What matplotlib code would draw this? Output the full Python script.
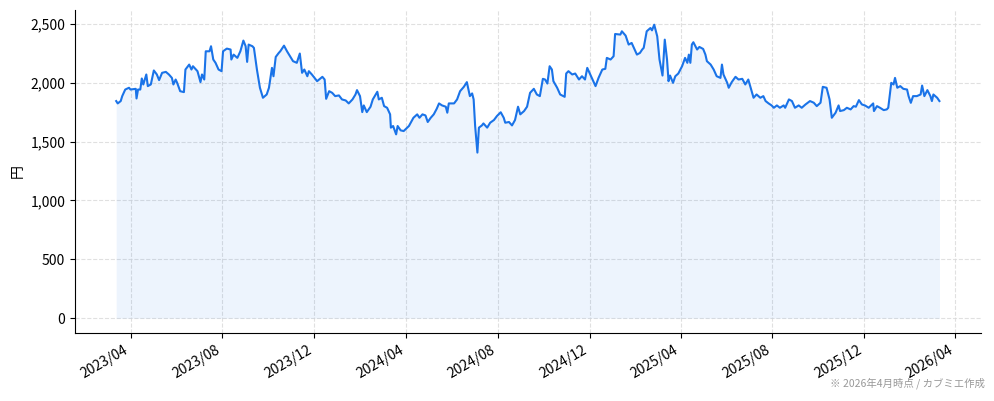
import pandas as pd
import matplotlib
matplotlib.use('Agg')
import matplotlib.pyplot as plt
import matplotlib.dates as mdates
from matplotlib.ticker import FuncFormatter

plt.rcParams['font.family'] = ['Noto Sans CJK JP', 'DejaVu Sans']

# Price readings (yen)
dates = [
    '2023-03-13', '2023-03-15', '2023-03-19', '2023-03-21', '2023-03-25', '2023-03-30',
    '2023-04-01', '2023-04-08', '2023-04-09', '2023-04-11', '2023-04-14', '2023-04-16',
    '2023-04-18', '2023-04-22', '2023-04-24', '2023-04-28', '2023-05-02', '2023-05-06',
    '2023-05-09', '2023-05-13', '2023-05-18', '2023-05-22', '2023-05-26', '2023-05-28',
    '2023-05-31', '2023-06-02', '2023-06-06', '2023-06-11', '2023-06-13', '2023-06-18',
    '2023-06-21', '2023-06-23', '2023-06-29', '2023-07-03', '2023-07-05', '2023-07-08',
    '2023-07-10', '2023-07-15', '2023-07-17', '2023-07-20', '2023-07-23', '2023-07-27',
    '2023-07-31', '2023-08-02', '2023-08-07', '2023-08-12', '2023-08-13', '2023-08-16',
    '2023-08-21', '2023-08-25', '2023-08-29', '2023-09-01', '2023-09-03', '2023-09-05',
    '2023-09-10', '2023-09-12', '2023-09-16', '2023-09-20', '2023-09-24', '2023-09-29',
    '2023-10-02', '2023-10-06', '2023-10-08', '2023-10-11', '2023-10-15', '2023-10-17',
    '2023-10-22', '2023-10-26', '2023-10-30', '2023-11-03', '2023-11-08', '2023-11-12',
    '2023-11-15', '2023-11-18', '2023-11-22', '2023-11-24', '2023-11-28', '2023-12-05',
    '2023-12-12', '2023-12-15', '2023-12-17', '2023-12-21', '2023-12-25', '2023-12-29',
    '2024-01-03', '2024-01-07', '2024-01-12', '2024-01-16', '2024-01-21', '2024-01-25',
    '2024-01-27', '2024-01-31', '2024-02-03', '2024-02-05', '2024-02-09', '2024-02-14',
    '2024-02-17', '2024-02-23', '2024-02-25', '2024-02-29', '2024-03-03', '2024-03-07',
    '2024-03-11', '2024-03-12', '2024-03-15', '2024-03-19', '2024-03-21', '2024-03-25',
    '2024-03-29', '2024-04-05', '2024-04-11', '2024-04-16', '2024-04-19', '2024-04-23',
    '2024-04-27', '2024-04-30', '2024-05-04', '2024-05-08', '2024-05-12', '2024-05-15',
    '2024-05-19', '2024-05-24', '2024-05-26', '2024-05-28', '2024-06-04', '2024-06-08',
    '2024-06-12', '2024-06-17', '2024-06-21', '2024-06-25', '2024-06-28', '2024-06-30',
    '2024-07-02', '2024-07-05', '2024-07-07', '2024-07-11', '2024-07-13', '2024-07-18',
    '2024-07-22', '2024-07-27', '2024-07-31', '2024-08-05', '2024-08-09', '2024-08-11',
    '2024-08-16', '2024-08-20', '2024-08-24', '2024-08-28', '2024-08-31', '2024-09-05',
    '2024-09-09', '2024-09-13', '2024-09-18', '2024-09-22', '2024-09-26', '2024-09-30',
    '2024-10-03', '2024-10-06', '2024-10-09', '2024-10-12', '2024-10-14', '2024-10-19',
    '2024-10-23', '2024-10-29', '2024-10-31', '2024-11-03', '2024-11-08', '2024-11-12',
    '2024-11-17', '2024-11-21', '2024-11-25', '2024-11-28', '2024-12-02', '2024-12-06',
    '2024-12-09', '2024-12-13', '2024-12-18', '2024-12-22', '2024-12-24', '2024-12-29',
    '2025-01-02', '2025-01-04', '2025-01-11', '2025-01-13', '2025-01-18', '2025-01-22',
    '2025-01-26', '2025-01-30', '2025-02-02', '2025-02-06', '2025-02-09', '2025-02-11',
    '2025-02-15', '2025-02-20', '2025-02-22', '2025-02-25', '2025-03-01', '2025-03-04',
    '2025-03-08', '2025-03-11', '2025-03-14', '2025-03-16', '2025-03-18', '2025-03-22',
    '2025-03-25', '2025-03-29', '2025-04-03', '2025-04-07', '2025-04-10', '2025-04-12',
    '2025-04-14', '2025-04-16', '2025-04-18', '2025-04-23', '2025-04-26', '2025-05-01',
    '2025-05-04', '2025-05-06', '2025-05-11', '2025-05-15', '2025-05-19', '2025-05-24',
    '2025-05-26', '2025-05-28', '2025-06-02', '2025-06-04', '2025-06-08', '2025-06-13',
    '2025-06-17', '2025-06-22', '2025-06-26', '2025-06-30', '2025-07-05', '2025-07-07',
    '2025-07-11', '2025-07-16', '2025-07-20', '2025-07-23', '2025-07-27', '2025-07-31',
    '2025-08-03', '2025-08-07', '2025-08-11', '2025-08-16', '2025-08-18', '2025-08-23',
    '2025-08-27', '2025-08-31', '2025-09-05', '2025-09-09', '2025-09-14', '2025-09-20',
    '2025-09-25', '2025-09-29', '2025-10-04', '2025-10-07', '2025-10-12', '2025-10-16',
    '2025-10-19', '2025-10-24', '2025-10-28', '2025-10-30', '2025-11-04', '2025-11-08',
    '2025-11-13', '2025-11-17', '2025-11-20', '2025-11-24', '2025-11-28', '2025-12-02',
    '2025-12-07', '2025-12-13', '2025-12-14', '2025-12-18', '2025-12-22', '2025-12-27',
    '2025-12-31', '2026-01-02', '2026-01-06', '2026-01-09', '2026-01-11', '2026-01-14',
    '2026-01-18', '2026-01-22', '2026-01-27', '2026-01-29', '2026-02-01', '2026-02-04',
    '2026-02-09', '2026-02-14', '2026-02-16', '2026-02-19', '2026-02-23', '2026-02-27',
    '2026-03-01', '2026-03-03', '2026-03-08', '2026-03-11',
]

prices = [
    1845, 1825, 1845, 1887, 1943, 1958,
    1943, 1949, 1867, 1943, 1943, 2037,
    1986, 2071, 1972, 1986, 2105, 2071,
    2023, 2085, 2093, 2071, 2042, 1986,
    2028, 2000, 1929, 1921, 2113, 2155,
    2113, 2141, 2099, 2006, 2071, 2028,
    2268, 2268, 2311, 2198, 2170, 2113,
    2099, 2268, 2291, 2283, 2198, 2240,
    2212, 2268, 2359, 2311, 2178, 2325,
    2311, 2297, 2113, 1958, 1873, 1901,
    1958, 2127, 2056, 2220, 2254, 2268,
    2316, 2268, 2226, 2184, 2170, 2249,
    2085, 2113, 2056, 2099, 2071, 2014,
    2051, 2028, 1864, 1929, 1915, 1887,
    1893, 1859, 1850, 1825, 1859, 1901,
    1938, 1887, 1751, 1808, 1751, 1797,
    1859, 1924, 1859, 1873, 1802, 1788,
    1732, 1619, 1633, 1562, 1633, 1596,
    1590, 1633, 1703, 1732, 1703, 1732,
    1723, 1667, 1703, 1732, 1780, 1825,
    1808, 1797, 1746, 1825, 1825, 1859,
    1929, 1966, 2006, 1887, 1910, 1859,
    1633, 1407, 1619, 1638, 1655, 1619,
    1661, 1684, 1718, 1750, 1703, 1661,
    1667, 1638, 1684, 1797, 1732, 1760,
    1797, 1915, 1949, 1901, 1887, 2034,
    2028, 1994, 2141, 2113, 2014, 1958,
    1901, 1881, 2079, 2099, 2071, 2079,
    2028, 2056, 2028, 2127, 2071, 2014,
    1972, 2042, 2113, 2119, 2212, 2198,
    2226, 2415, 2410, 2438, 2401, 2325,
    2339, 2283, 2240, 2254, 2283, 2297,
    2438, 2466, 2446, 2494, 2395, 2198,
    2062, 2367, 2198, 2014, 2062, 2000,
    2056, 2079, 2141, 2212, 2170, 2240,
    2170, 2325, 2345, 2283, 2305, 2288,
    2240, 2184, 2155, 2113, 2056, 2042,
    2155, 2071, 2000, 1958, 2006, 2051,
    2028, 2034, 1986, 2028, 1915, 1873,
    1901, 1873, 1887, 1845, 1825, 1808,
    1788, 1808, 1788, 1808, 1788, 1859,
    1845, 1788, 1808, 1788, 1816, 1845,
    1831, 1802, 1831, 1966, 1958, 1859,
    1703, 1746, 1808, 1760, 1768, 1788,
    1774, 1802, 1797, 1853, 1816, 1808,
    1788, 1825, 1760, 1802, 1788, 1768,
    1774, 1788, 2000, 1986, 2042, 1958,
    1972, 1949, 1943, 1887, 1830, 1887,
    1887, 1901, 1977, 1887, 1938, 1887,
    1845, 1901, 1873, 1845,
]

x = pd.to_datetime(dates)

fig = plt.figure(figsize=(9.94, 4.01), dpi=100)
ax = fig.add_axes([0.0755, 0.17, 0.911, 0.805])

ax.fill_between(x, prices, 0, color='#1a73e8', alpha=0.08, linewidth=0)
ax.plot(x, prices, color='#1a73e8', linewidth=1.5)

ax.grid(True, linestyle='--', color='#d9d9d9', linewidth=0.8, alpha=0.8)
ax.set_axisbelow(True)
for side in ['top', 'right']:
    ax.spines[side].set_visible(False)

ax.yaxis.set_major_formatter(FuncFormatter(lambda v, p: '{:,.0f}'.format(v)))
ax.set_ylabel('円', fontsize=10)
ax.xaxis.set_major_locator(mdates.MonthLocator(bymonth=[4, 8, 12]))
ax.xaxis.set_major_formatter(mdates.DateFormatter('%Y/%m'))
ax.tick_params(labelsize=10)
plt.setp(ax.get_xticklabels(), rotation=30, ha='right')

fig.text(0.991, 0.03, '※ 2026年4月時点 / カブミエ作成', ha='right', va='bottom',
         fontsize=7.5, color='#999999')

fig.savefig('out.png', dpi=100)
